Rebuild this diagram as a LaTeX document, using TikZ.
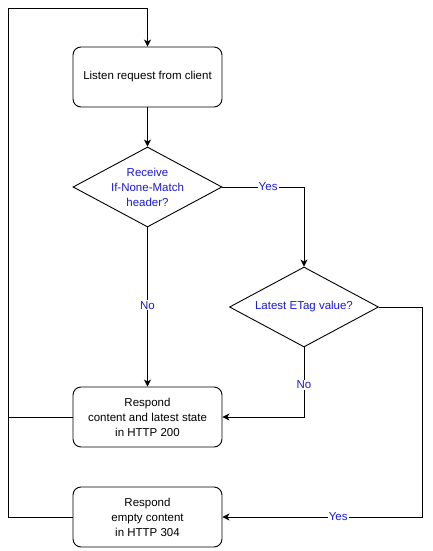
\documentclass[tikz,border=0pt]{standalone}
\usepackage{fontspec}
\setmainfont{Liberation Sans}
\usetikzlibrary{arrows.meta,shapes.geometric}
\definecolor{labelblue}{RGB}{26,26,204}

\begin{document}
\begin{tikzpicture}[x=1pt,y=-1pt,line width=0.9pt,
  stepbox/.style={draw,rounded corners=8pt,minimum width=149pt,minimum height=60pt,
    inner sep=0pt,align=center,font=\fontsize{11.5}{15}\selectfont},
  decision/.style={draw,diamond,aspect=1.86,minimum width=149pt,minimum height=80pt,inner sep=-6pt,
    align=center,text=labelblue,font=\fontsize{11.5}{15}\selectfont},
  flow/.style={-{Stealth[length=7pt,width=7pt,inset=2pt]}},
  answer/.style={fill=white,inner sep=1pt,text=labelblue,font=\fontsize{11.5}{15}\selectfont}]
\useasboundingbox (0,0) rectangle (432,551);

% ---------------- boxes and decisions ----------------
\node[stepbox]  (listen)  at (147.5,77)  {Listen request from client};
\node[decision] (ifnone)  at (147.5,187) {Receive\\If-None-Match\\header?};
\node[decision] (etag)    at (304,307)   {Latest ETag value?};
\node[stepbox]  (resp200) at (147.5,417) {Respond\\content and latest state\\in HTTP 200};
\node[stepbox]  (resp304) at (147.5,517) {Respond\\empty content\\in HTTP 304};

% ---------------- turning points ----------------
\coordinate (yesturn) at (422,307);
\coordinate (backlow) at (8,517);
\coordinate (backtop) at (8,8);

% ---------------- connectors ----------------
\draw[flow] (listen.south) -- (ifnone.north);
\draw[flow] (ifnone.south) -- node[answer,pos=0.49] {No} (resp200.north);
\draw[flow] (ifnone.east) -- node[answer,pos=0.56] {Yes} (ifnone.east -| etag.north) -- (etag.north);
\draw[flow] (etag.south) -- node[answer,pos=0.54] {No} (etag.south |- resp200.east) -- (resp200.east);
\draw[flow] (etag.east) -- (yesturn) |- node[answer,pos=0.71] {Yes} (resp304.east);

% ---------------- loop back to the listener ----------------
\draw (resp200.west) -- (resp200.west -| backlow);
\draw[flow] (resp304.west) -- (backlow) -- (backtop) -| (listen.north);
\end{tikzpicture}
\end{document}
